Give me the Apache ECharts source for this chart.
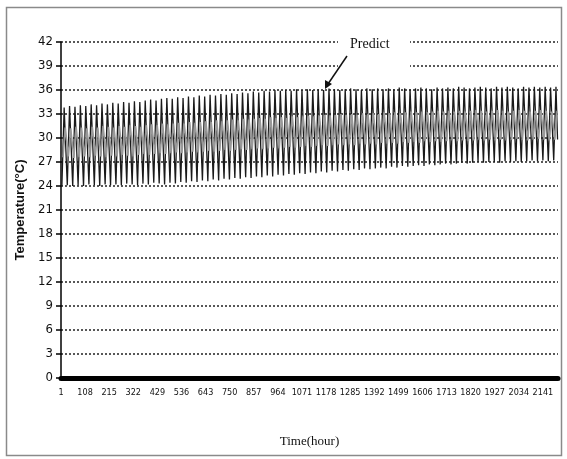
<!DOCTYPE html>
<html>
<head>
<meta charset="utf-8">
<script src="https://cdn.jsdelivr.net/npm/echarts@6/dist/echarts.min.js"></script>
<style>
html, body { margin: 0; padding: 0; background: #fff; }
#main { width: 567px; height: 459px; }
</style>
</head>
<body>
<div id="main"></div>
<script>
// hourly categories 1..2208 (labels every 107 h)
var hours = [];
for (var h = 1; h <= 2208; h++) hours.push(String(h));

// daily peaks / troughs of the predicted curve
var predHigh = [
  33.8, 34.0, 33.9, 34.1, 34.0, 34.2, 34.1, 34.3, 34.2, 34.4,
  34.3, 34.5, 34.4, 34.6, 34.5, 34.7, 34.8, 34.7, 34.9, 35.0,
  34.9, 35.1, 35.0, 35.2, 35.1, 35.3, 35.2, 35.4, 35.3, 35.5,
  35.4, 35.6, 35.5, 35.7, 35.6, 35.8, 35.7, 35.9, 35.8, 36.0,
  35.9, 36.0, 35.9, 36.1, 36.0, 36.1, 36.0, 36.1, 36.0, 36.2,
  36.1, 36.0, 36.1, 36.2, 36.1, 36.0, 36.2, 36.1, 36.2, 36.1,
  36.2, 36.1, 36.3, 36.2, 36.1, 36.2, 36.3, 36.2, 36.1, 36.3,
  36.2, 36.3, 36.2, 36.4, 36.3, 36.2, 36.3, 36.4, 36.3, 36.2,
  36.4, 36.3, 36.4, 36.3, 36.2, 36.4, 36.3, 36.4, 36.3, 36.4, 36.3, 36.4
];
var predLow = [
  24.0, 24.1, 24.0, 24.1, 24.0, 24.2, 24.1, 24.0, 24.2, 24.1,
  24.2, 24.1, 24.3, 24.2, 24.1, 24.3, 24.2, 24.4, 24.3, 24.2,
  24.4, 24.3, 24.5, 24.4, 24.6, 24.5, 24.7, 24.6, 24.8, 24.7,
  24.9, 24.8, 25.0, 24.9, 25.1, 25.0, 25.2, 25.1, 25.3, 25.2,
  25.4, 25.3, 25.5, 25.4, 25.6, 25.5, 25.7, 25.6, 25.8, 25.7,
  25.9, 25.8, 26.0, 25.9, 26.1, 26.0, 26.2, 26.1, 26.2, 26.3,
  26.2, 26.4, 26.3, 26.5, 26.4, 26.5, 26.6, 26.5, 26.7, 26.6,
  26.7, 26.8, 26.7, 26.8, 26.9, 26.8, 26.9, 27.0, 26.9, 27.0,
  27.0, 26.9, 27.1, 27.0, 27.1, 27.0, 27.1, 27.2, 27.1, 27.2, 27.1, 27.2
];
var predEnd = 29.8;

// daily peaks / troughs of the grey curve
var grayHigh = [
  31.3, 31.2, 31.4, 31.3, 31.2, 31.4, 31.3, 31.5, 31.4, 31.3,
  31.5, 31.4, 31.6, 31.5, 31.4, 31.6, 31.7, 31.6, 31.8, 31.7,
  31.8, 31.9, 31.8, 32.0, 31.9, 32.0, 32.1, 32.0, 32.2, 32.1,
  32.2, 32.3, 32.2, 32.4, 32.3, 32.4, 32.5, 32.4, 32.6, 32.5,
  32.6, 32.5, 32.7, 32.6, 32.7, 32.8, 32.7, 32.8, 32.9, 32.8,
  32.9, 33.0, 32.9, 33.0, 32.9, 33.1, 33.0, 33.1, 33.0, 33.2,
  33.1, 33.2, 33.1, 33.2, 33.3, 33.2, 33.3, 33.2, 33.3, 33.4,
  33.3, 33.4, 33.3, 33.4, 33.3, 33.4, 33.5, 33.4, 33.3, 33.4,
  33.5, 33.4, 33.3, 33.4, 33.5, 33.4, 33.3, 33.4, 33.5, 33.4, 33.3, 33.4
];
var grayLow = [
  27.6, 27.7, 27.5, 27.6, 27.7, 27.6, 27.8, 27.7, 27.6, 27.8,
  27.7, 27.9, 27.8, 27.7, 27.9, 28.0, 27.9, 28.0, 28.1, 28.0,
  28.1, 28.2, 28.1, 28.2, 28.3, 28.2, 28.3, 28.4, 28.3, 28.4,
  28.5, 28.4, 28.5, 28.6, 28.5, 28.6, 28.7, 28.6, 28.7, 28.8,
  28.7, 28.8, 28.9, 28.8, 28.9, 29.0, 28.9, 29.0, 29.1, 29.0,
  29.1, 29.2, 29.1, 29.2, 29.1, 29.3, 29.2, 29.3, 29.2, 29.4,
  29.3, 29.4, 29.3, 29.5, 29.4, 29.5, 29.4, 29.6, 29.5, 29.6,
  29.5, 29.6, 29.7, 29.6, 29.7, 29.6, 29.7, 29.8, 29.7, 29.8,
  29.7, 29.8, 29.7, 29.8, 29.9, 29.8, 29.7, 29.8, 29.9, 29.8, 29.7, 29.8
];

var yTicks = [0, 42, 3];

// put each day's trough and peak at its hour
function daily(lo, hi, tLo, tHi) {
  var pts = [];
  for (var d = 0; d < lo.length; d++) {
    pts.push([d * 24 + tLo, lo[d]]);
    pts.push([d * 24 + tHi, hi[d]]);
  }
  return pts;
}
var predData = daily(predLow, predHigh, 4, 14);
predData.push([2205, predEnd]);
var grayData = daily(grayLow, grayHigh, 9, 19);

var narrow = "'DejaVu Sans Condensed', 'Liberation Sans Narrow', 'Arial Narrow', sans-serif";
var serif = "'Liberation Serif', 'Times New Roman', serif";

var myChart = echarts.init(document.getElementById('main'));
var option = {
    animation: false,
    backgroundColor: '#fff',
    grid: { left: 61, right: 9, top: 42, bottom: 81 },
    xAxis: {
        type: 'category',
        data: hours,
        boundaryGap: false,
        name: 'Time(hour)',
        nameLocation: 'middle',
        nameGap: 57,
        nameTextStyle: { fontFamily: serif, fontSize: 13, color: '#111' },
        axisLine: { lineStyle: { color: '#000', width: 5 } },
        axisTick: { show: false },
        axisLabel: {
            interval: 106,
            margin: 10,
            fontFamily: narrow,
            fontSize: 9,
            color: '#111'
        },
        splitLine: { show: false }
    },
    yAxis: {
        type: 'value',
        min: yTicks[0],
        max: yTicks[1],
        interval: yTicks[2],
        name: 'Temperature(°C)',
        nameLocation: 'middle',
        nameGap: 33,
        nameTextStyle: { fontFamily: "'Liberation Sans', Arial, sans-serif", fontSize: 13, fontWeight: 'bold', color: '#111' },
        axisLine: { show: true, lineStyle: { color: '#000', width: 1.5 } },
        axisTick: { show: true, length: 5, lineStyle: { color: '#000', width: 1.5 } },
        axisLabel: { margin: 8, fontFamily: narrow, fontSize: 13, color: '#111' },
        splitLine: { lineStyle: { color: '#222', width: 1.5, type: [2, 2] } }
    },
    series: [
        {
            name: 'Predict',
            type: 'line',
            data: predData,
            showSymbol: false,
            lineStyle: { color: '#1a1a1a', width: 1.3 },
            z: 2
        },
        {
            name: 'measured',
            type: 'line',
            data: grayData,
            showSymbol: false,
            lineStyle: { color: '#999', width: 1.6 },
            z: 3
        }
    ],
    graphic: [
        {
            type: 'rect',
            shape: { x: 6.5, y: 7.5, width: 555, height: 448 },
            style: { fill: 'none', stroke: '#8a8a8a', lineWidth: 1.5 },
            silent: true
        },
        {
            type: 'rect',
            shape: { x: 338, y: 34, width: 72, height: 34 },
            style: { fill: '#fff' },
            z: 50
        },
        {
            type: 'text',
            x: 350, y: 37,
            style: { text: 'Predict', font: '14px ' + serif, fill: '#111' },
            z: 51
        },
        {
            type: 'line',
            shape: { x1: 347, y1: 56, x2: 328, y2: 84 },
            style: { stroke: '#111', lineWidth: 1.5 },
            z: 51
        },
        {
            type: 'polygon',
            shape: { points: [[325, 89], [325, 80], [332, 84]] },
            style: { fill: '#111' },
            z: 51
        }
    ]
};
myChart.setOption(option);
</script>
</body>
</html>
